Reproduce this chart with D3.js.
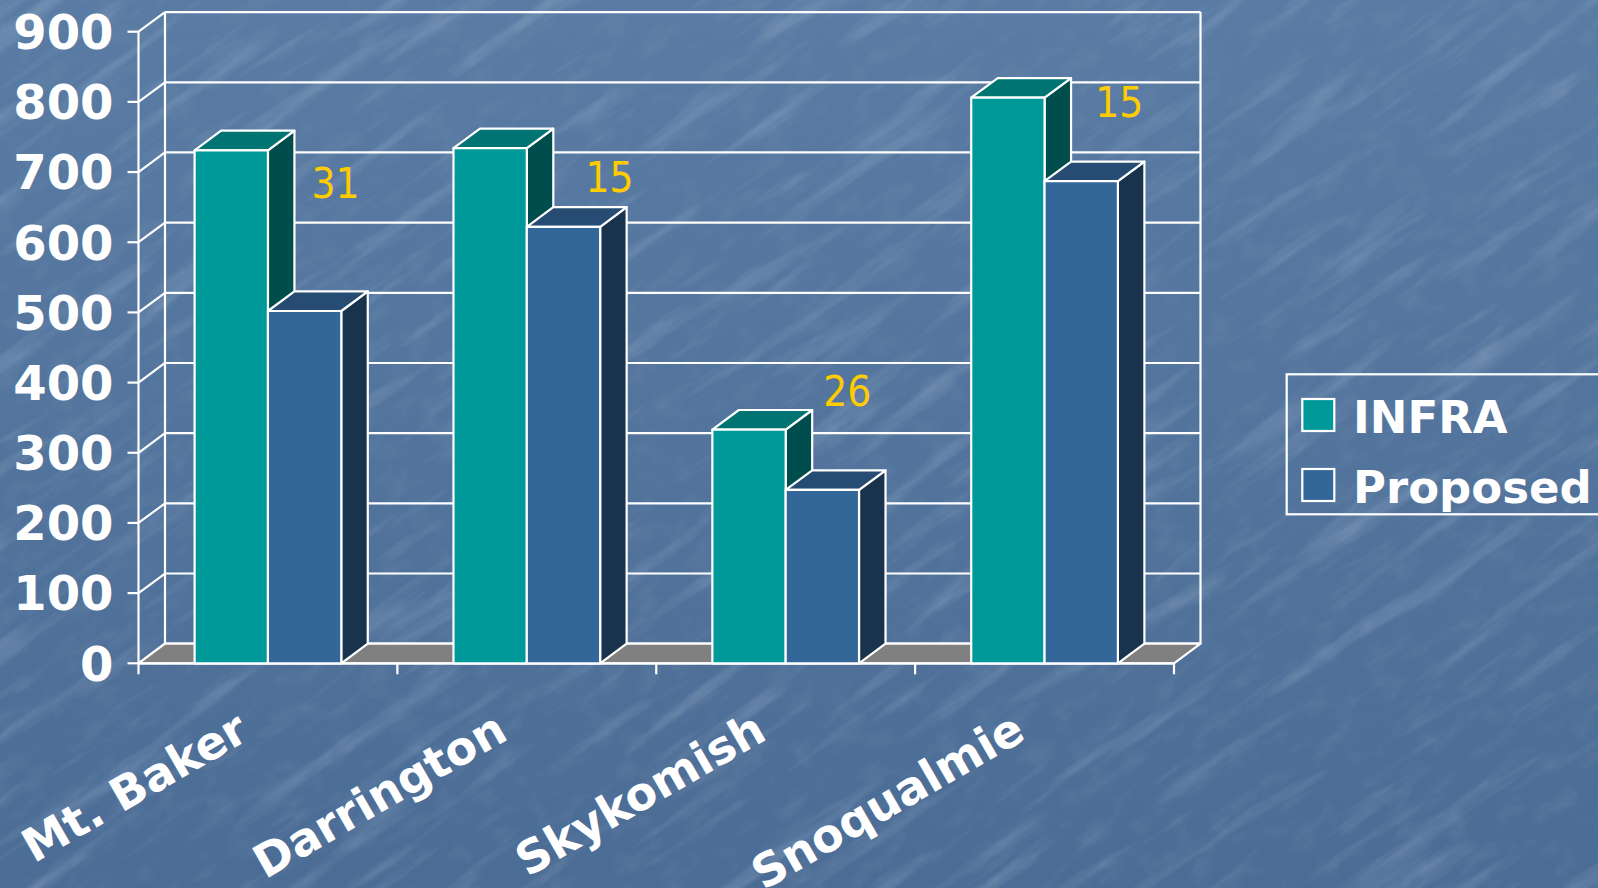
<!DOCTYPE html>
<html>
<head>
<meta charset="utf-8">
<script src="https://cdn.jsdelivr.net/npm/d3@7"></script>
<style>
  html, body { margin: 0; padding: 0; background: #52739c; overflow: hidden; }
  svg { display: block; }
</style>
</head>
<body>
<svg id="chart" width="1598" height="888"></svg>
<script>
// ---- data ----
const categories = ["Mt. Baker", "Darrington", "Skykomish", "Snoqualmie"];
const seriesNames = ["INFRA", "Proposed"];
const infraValues = [731, 734, 333, 806];
const proposedValues = [502, 622, 247, 687];
const reductionLabels = ["31", "15", "26", "15"];
const yTickValues = [0, 100, 200, 300, 400, 500, 600, 700, 800, 900];

// ---- layout ----
const W = 1598, H = 888;
const plot = { left: 138.5, right: 1174, bottom: 663.3, top: 31.7 };
const depth = { dx: 26.5, dy: -19.6 };
// nudges for the reduction labels, relative to the top of each INFRA bar
const labelNudge = [[31, 48], [46, 44], [25, -24], [38, 19]];

const colors = {
  INFRA:    { front: "#009999", top: "#007373", side: "#004d4d" },
  Proposed: { front: "#336699", top: "#264c73", side: "#1a334d" }
};

const svg = d3.select("#chart");
const defs = svg.append("defs");

// background gradient + mottled texture
const grad = defs.append("linearGradient").attr("id", "bg").attr("x1", 0).attr("y1", 0).attr("x2", 0).attr("y2", 1);
grad.append("stop").attr("offset", "0%").attr("stop-color", "#5a7ca4");
grad.append("stop").attr("offset", "100%").attr("stop-color", "#4b6c95");

const fLight = defs.append("filter").attr("id", "streaks")
  .attr("x", 0).attr("y", 0).attr("width", "100%").attr("height", "100%");
fLight.append("feTurbulence").attr("type", "fractalNoise")
  .attr("baseFrequency", "0.006 0.045").attr("numOctaves", 5).attr("seed", 11);
fLight.append("feColorMatrix").attr("type", "matrix")
  .attr("values", "0 0 0 0 0.80  0 0 0 0 0.87  0 0 0 0 0.96  2.2 0 0 0 -1.2");

const fDark = defs.append("filter").attr("id", "mottle")
  .attr("x", 0).attr("y", 0).attr("width", "100%").attr("height", "100%");
fDark.append("feTurbulence").attr("type", "fractalNoise")
  .attr("baseFrequency", "0.03 0.05").attr("numOctaves", 4).attr("seed", 3);
fDark.append("feColorMatrix").attr("type", "matrix")
  .attr("values", "0 0 0 0 0.20  0 0 0 0 0.30  0 0 0 0 0.44  0 -2.0 0 0 1.0");

svg.append("rect").attr("width", W).attr("height", H).attr("fill", "url(#bg)");
svg.append("g").attr("transform", `translate(${W / 2},${H / 2}) rotate(-35)`)
  .append("rect").attr("x", -1100).attr("y", -900).attr("width", 2200).attr("height", 1800)
  .attr("filter", "url(#mottle)").attr("opacity", 0.3);
svg.append("g").attr("transform", `translate(${W / 2},${H / 2}) rotate(-35)`)
  .append("rect").attr("x", -1100).attr("y", -900).attr("width", 2200).attr("height", 1800)
  .attr("filter", "url(#streaks)").attr("opacity", 0.22);

// ---- scales ----
const x = d3.scaleBand().domain(categories).range([plot.left, plot.right]).paddingInner(0).paddingOuter(0);
const xs = d3.scaleBand().domain(seriesNames).range([0, x.bandwidth()]).paddingInner(0).paddingOuter(0.765);
const y = d3.scaleLinear().domain([0, 900]).range([plot.bottom, plot.top]);

const lineCol = "#ffffff", lw = 2.2;
const g = svg.append("g");

// back wall grid
const wall = g.append("g").attr("stroke", lineCol).attr("stroke-width", lw).attr("fill", "none");
yTickValues.forEach(t => {
  wall.append("line")
    .attr("x1", plot.left + depth.dx).attr("x2", plot.right + depth.dx)
    .attr("y1", y(t) + depth.dy).attr("y2", y(t) + depth.dy);
  wall.append("line")
    .attr("x1", plot.left).attr("y1", y(t))
    .attr("x2", plot.left + depth.dx).attr("y2", y(t) + depth.dy);
});
[plot.left + depth.dx, plot.right + depth.dx].forEach(xx => {
  wall.append("line").attr("x1", xx).attr("x2", xx)
    .attr("y1", y(900) + depth.dy).attr("y2", y(0) + depth.dy);
});

// floor
const y0 = y(0);
g.append("path")
  .attr("d", `M${plot.left},${y0}L${plot.right},${y0}L${plot.right + depth.dx},${y0 + depth.dy}L${plot.left + depth.dx},${y0 + depth.dy}Z`)
  .attr("fill", "#808080").attr("stroke", lineCol).attr("stroke-width", lw).attr("stroke-linejoin", "round");

// value axis
const yAxis = g.append("g").attr("stroke", lineCol).attr("stroke-width", lw);
yAxis.append("line").attr("x1", plot.left).attr("x2", plot.left).attr("y1", y(900)).attr("y2", y(0) + 1);
yTickValues.forEach(t => {
  yAxis.append("line").attr("x1", plot.left - 11).attr("x2", plot.left).attr("y1", y(t)).attr("y2", y(t));
});
g.append("g").selectAll("text").data(yTickValues).join("text")
  .attr("x", plot.left - 25).attr("y", d => y(d)).attr("dy", "0.36em")
  .attr("text-anchor", "end")
  .attr("font-family", "'DejaVu Sans', Verdana, sans-serif").attr("font-weight", "bold")
  .attr("font-size", 48).attr("fill", "#ffffff")
  .text(d => d);

// category axis
const xAxis = g.append("g").attr("stroke", lineCol).attr("stroke-width", lw);
xAxis.append("line").attr("x1", plot.left - 1).attr("x2", plot.right + 1).attr("y1", y0).attr("y2", y0);
categories.map(c => x(c)).concat([plot.right]).forEach(xx => {
  xAxis.append("line").attr("x1", xx).attr("x2", xx).attr("y1", y0).attr("y2", y0 + 11);
});
g.append("g").selectAll("text").data(categories).join("text")
  .attr("transform", d => `translate(${x(d) + x.bandwidth() / 2 - 17},${y0 + 75}) rotate(-30)`)
  .attr("text-anchor", "end")
  .attr("font-family", "'DejaVu Sans', Verdana, sans-serif").attr("font-weight", "bold")
  .attr("font-size", 46).attr("fill", "#ffffff")
  .text(d => d);

// 3D bars
const bars = [];
categories.forEach((c, i) => {
  bars.push({ cat: c, series: "INFRA", value: infraValues[i] });
  bars.push({ cat: c, series: "Proposed", value: proposedValues[i] });
});
const bw = xs.bandwidth();
const barG = g.append("g").attr("stroke", lineCol).attr("stroke-width", lw).attr("stroke-linejoin", "round");
bars.forEach(b => {
  const bx = x(b.cat) + xs(b.series);
  const yt = y(b.value);
  const col = colors[b.series];
  const one = barG.append("g");
  one.append("path")
    .attr("d", `M${bx + bw},${yt}L${bx + bw + depth.dx},${yt + depth.dy}L${bx + bw + depth.dx},${y0 + depth.dy}L${bx + bw},${y0}Z`)
    .attr("fill", col.side);
  one.append("path")
    .attr("d", `M${bx},${yt}L${bx + depth.dx},${yt + depth.dy}L${bx + bw + depth.dx},${yt + depth.dy}L${bx + bw},${yt}Z`)
    .attr("fill", col.top);
  one.append("rect")
    .attr("x", bx).attr("y", yt).attr("width", bw).attr("height", y0 - yt)
    .attr("fill", col.front);
});

// reduction labels
g.append("g").selectAll("text").data(categories).join("text")
  .attr("x", (d, i) => x(d) + xs("Proposed") + bw / 2 + labelNudge[i][0])
  .attr("y", (d, i) => y(infraValues[i]) + labelNudge[i][1])
  .attr("text-anchor", "middle")
  .attr("font-family", "'DejaVu Sans', Verdana, sans-serif")
  .style("font-stretch", "condensed")
  .attr("font-size", 42).attr("fill", "#ffcc00")
  .text((d, i) => reductionLabels[i]);

// legend
const leg = svg.append("g");
leg.append("rect").attr("x", 1286.7).attr("y", 374.3).attr("width", 340).attr("height", 140)
  .attr("fill", "none").attr("stroke", lineCol).attr("stroke-width", lw);
seriesNames.forEach((s, i) => {
  const row = leg.append("g").attr("transform", `translate(1302.3,${399 + i * 70})`);
  row.append("rect").attr("width", 32).attr("height", 32)
    .attr("fill", colors[s].front).attr("stroke", lineCol).attr("stroke-width", lw);
  row.append("text").attr("x", 50.7).attr("y", 33.5)
    .attr("font-family", "'DejaVu Sans', Verdana, sans-serif").attr("font-weight", "bold")
    .attr("font-size", 45).attr("fill", "#ffffff")
    .text(s);
});
</script>
</body>
</html>
